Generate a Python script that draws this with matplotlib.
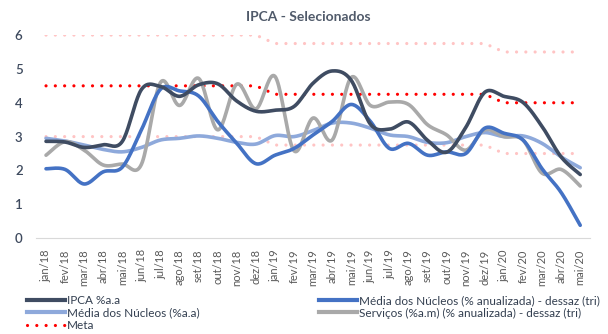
import matplotlib
matplotlib.use('Agg')
import matplotlib.pyplot as plt
import numpy as np
from matplotlib.lines import Line2D

plt.rcParams['font.family'] = ['Lato', 'DejaVu Sans']

months = ['jan/18', 'fev/18', 'mar/18', 'abr/18', 'mai/18', 'jun/18', 'jul/18', 'ago/18',
          'set/18', 'out/18', 'nov/18', 'dez/18', 'jan/19', 'fev/19', 'mar/19', 'abr/19',
          'mai/19', 'jun/19', 'jul/19', 'ago/19', 'set/19', 'out/19', 'nov/19', 'dez/19',
          'jan/20', 'fev/20', 'mar/20', 'abr/20', 'mai/20']

ipca = [2.86, 2.84, 2.68, 2.76, 2.86, 4.39, 4.48, 4.19, 4.53, 4.56, 4.05, 3.75, 3.78, 3.89,
        4.58, 4.94, 4.66, 3.37, 3.22, 3.43, 2.89, 2.54, 3.27, 4.31, 4.19, 4.01, 3.30, 2.40, 1.88]
nucleos_dessaz = [2.05, 2.03, 1.60, 1.96, 2.10, 3.20, 4.40, 4.35, 4.20, 3.45, 2.80, 2.20, 2.45, 2.65,
                  3.05, 3.45, 3.95, 3.45, 2.65, 2.80, 2.45, 2.55, 2.50, 3.25, 3.10, 2.90, 2.05, 1.35, 0.38]
nucleos_aa = [2.95, 2.87, 2.75, 2.62, 2.55, 2.68, 2.90, 2.95, 3.02, 2.95, 2.83, 2.78, 3.03, 3.00,
              3.18, 3.40, 3.40, 3.25, 3.05, 3.00, 2.83, 2.82, 3.00, 3.12, 3.00, 3.02, 2.80, 2.40, 2.08]
servicos = [2.45, 2.85, 2.60, 2.16, 2.19, 2.18, 4.60, 3.92, 4.72, 3.20, 4.55, 3.82, 4.78, 2.58,
            3.55, 2.90, 4.75, 3.92, 4.02, 3.95, 3.35, 3.05, 2.60, 3.20, 3.00, 2.90, 1.92, 2.03, 1.54]
meta = [4.5] * 12 + [4.25] * 12 + [4.0] * 5
meta_sup = [6.0] * 12 + [5.75] * 12 + [5.5] * 5
meta_inf = [3.0] * 12 + [2.75] * 12 + [2.5] * 5

DARK = '#3F4C62'
BLUE = '#4472C4'
LIGHT = '#8EA9DB'
GRAY = '#A9A9A9'
RED = '#FF0000'
PINK = '#FFC4C4'
TXT = '#3E4A5E'


def smooth(y, n=20):
    # Catmull-Rom style bezier, like Excel's "smoothed line"
    y = np.asarray(y, float)
    x = np.arange(len(y), dtype=float)
    pts = np.column_stack([x, y])
    out = []
    t = np.linspace(0, 1, n, endpoint=False)[:, None]
    for i in range(len(pts) - 1):
        p0 = pts[max(i - 1, 0)]
        p1 = pts[i]
        p2 = pts[i + 1]
        p3 = pts[min(i + 2, len(pts) - 1)]
        c1 = p1 + (p2 - p0) / 6
        c2 = p2 - (p3 - p1) / 6
        seg = ((1 - t) ** 3) * p1 + 3 * ((1 - t) ** 2) * t * c1 + 3 * (1 - t) * t ** 2 * c2 + t ** 3 * p2
        out.append(seg)
    out.append(pts[-1:])
    out = np.vstack(out)
    return out[:, 0], out[:, 1]


fig = plt.figure(figsize=(6.08, 3.34), dpi=100)
ax = fig.add_axes([0.060, 0.287, 0.910, 0.608])

x = np.arange(len(months))
dots = dict(linestyle=(0, (0.01, 2.9)), dash_capstyle='round', lw=2.3)

ax.plot(x, meta_sup, color=PINK, **dots)
ax.plot(x, meta_inf, color=PINK, **dots)
ax.plot(x, meta, color=RED, **dots)

series = [(nucleos_aa, LIGHT), (servicos, GRAY), (nucleos_dessaz, BLUE), (ipca, DARK)]
for vals, col in series:
    sx, sy = smooth(vals)
    ax.plot(sx, sy, color=col, lw=2.6, solid_capstyle='round')

ax.set_xlim(-0.5, len(months) - 0.5)
ax.set_ylim(0, 6)
ax.set_yticks(range(0, 7))
ax.set_xticks(x)
ax.set_xticklabels(months, rotation=90, fontsize=8, color='#595959')
for s in ['top', 'right', 'left']:
    ax.spines[s].set_visible(False)
ax.spines['bottom'].set_color('#D9D9D9')
ax.tick_params(axis='both', length=0)
ax.tick_params(axis='y', labelsize=9.5, labelcolor=TXT, pad=10)
for lbl in ax.get_yticklabels():
    lbl.set_fontweight('semibold')
ax.tick_params(axis='x', pad=8)

fig.text(0.507, 0.95, 'IPCA - Selecionados', ha='center', va='center',
         fontsize=10, fontweight='bold', color='#505A6A')

h_ipca = Line2D([], [], color=DARK, lw=3)
h_aa = Line2D([], [], color=LIGHT, lw=3)
h_meta = Line2D([], [], color=RED, **dots)
h_des = Line2D([], [], color=BLUE, lw=3)
h_serv = Line2D([], [], color=GRAY, lw=3)

leg_kw = dict(frameon=False, fontsize=8.5, handlelength=3.2, handletextpad=0.15,
              labelspacing=0.15, borderpad=0, labelcolor='#333F50')
leg1 = fig.legend([h_ipca, h_aa, h_meta], ['IPCA %a.a', 'Média dos Núcleos (%a.a)', 'Meta'],
                  loc='upper left', bbox_to_anchor=(0.035, 0.135), **leg_kw)
leg2 = fig.legend([h_des, h_serv], ['Média dos Núcleos (% anualizada) - dessaz (tri)',
                                    'Serviços (%a.m) (% anualizada) - dessaz (tri)'],
                  loc='upper left', bbox_to_anchor=(0.515, 0.135), **leg_kw)

fig.savefig('out.png', dpi=100, facecolor='white')
